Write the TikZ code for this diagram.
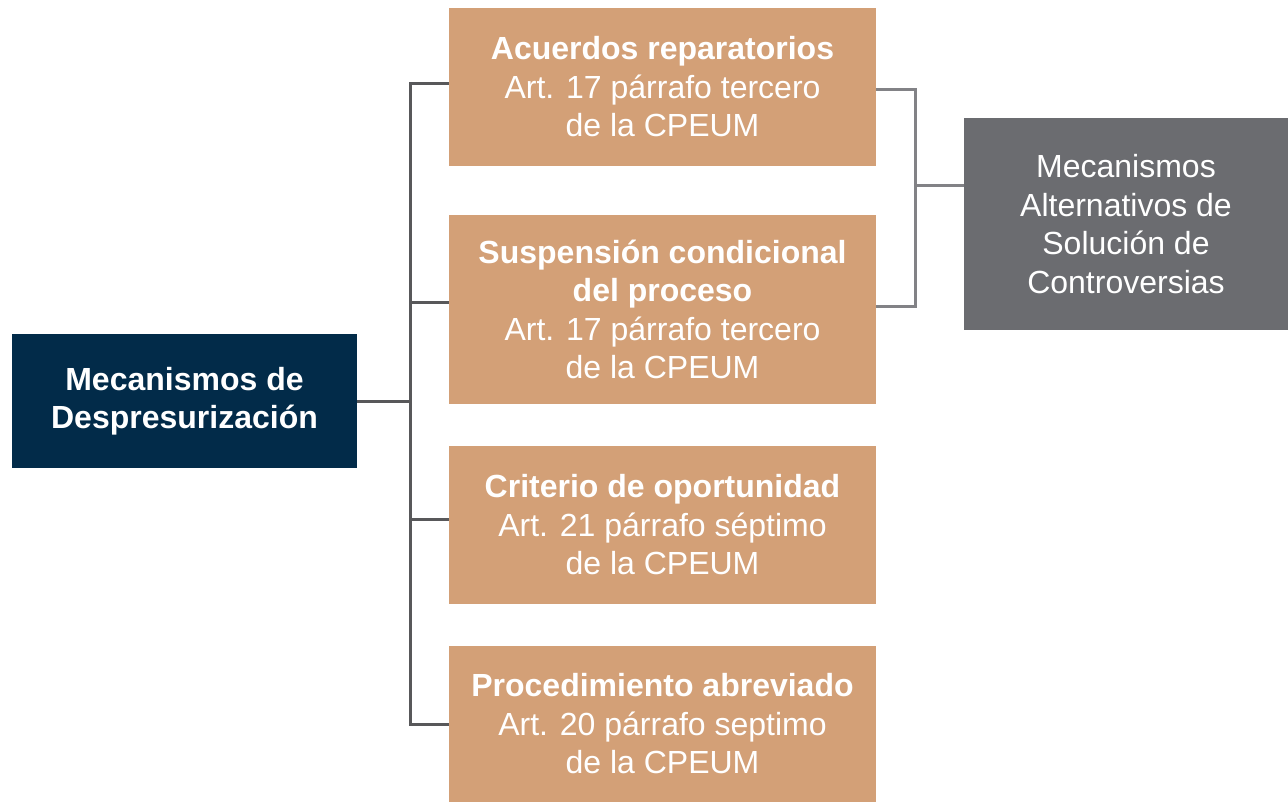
\documentclass[tikz,border=0pt]{standalone}
\usepackage{fontspec}
\setmainfont{Liberation Sans}
\usepackage{tikz}
\usetikzlibrary{positioning}
\definecolor{navy}{RGB}{2,43,73}
\definecolor{tan}{RGB}{211,160,119}
\definecolor{slate}{RGB}{107,108,112}
\definecolor{darkline}{RGB}{88,88,90}
\definecolor{lightline}{RGB}{130,130,134}
\newcommand{\hd}[1]{\textbf{#1}}

\begin{document}
\begin{tikzpicture}[x=1pt,y=-1pt,
	box/.style={inner sep=0pt, align=center, text=white, font=\fontsize{32}{38.5}\selectfont},
	mecbox/.style={box, fill=tan, minimum width=427pt},
	link/.style={line width=3pt, darkline},
	altlink/.style={line width=3pt, lightline}]
	\useasboundingbox (0,0) rectangle (1288,802);
	\node[box, fill=navy, minimum width=345pt, minimum height=134pt] (desp) at (184.5,401)
		{\hd{Mecanismos de}\\\hd{Despresurización}};
	\node[mecbox, minimum height=158pt] (acuerdos) at (662.5,87)
		{\hd{Acuerdos reparatorios}\\Art. 17 párrafo tercero\\de la CPEUM};
	\node[mecbox, minimum height=189pt] (suspension) at (662.5,309.5)
		{\hd{Suspensión condicional}\\\hd{del proceso}\\Art. 17 párrafo tercero\\de la CPEUM};
	\node[mecbox, minimum height=158pt] (criterio) at (662.5,525)
		{\hd{Criterio de oportunidad}\\Art. 21 párrafo séptimo\\de la CPEUM};
	\node[mecbox, minimum height=156pt] (abreviado) at (662.5,724)
		{\hd{Procedimiento abreviado}\\Art. 20 párrafo septimo\\de la CPEUM};
	\node[box, fill=slate, minimum width=324pt, minimum height=212pt] (masc) at (1126,224)
		{Mecanismos\\Alternativos de\\Solución de\\Controversias};
	\coordinate (ljoin) at (410,401);
	\coordinate (rjoin) at (915,186);
	\draw[link] (desp.east) -- (ljoin);
	\draw[link] (ljoin) |- ([yshift=3pt]acuerdos.west);
	\draw[link] (ljoin) |- ([yshift=7pt]suspension.west);
	\draw[link] (ljoin) |- ([yshift=6pt]criterio.west);
	\draw[link] (ljoin) |- (abreviado.west);
	\draw[altlink] ([yshift=-3pt]acuerdos.east) -| (rjoin);
	\draw[altlink] ([yshift=3pt]suspension.east) -| (rjoin);
	\draw[altlink] (rjoin) -- (rjoin -| masc.west);
\end{tikzpicture}
\end{document}
